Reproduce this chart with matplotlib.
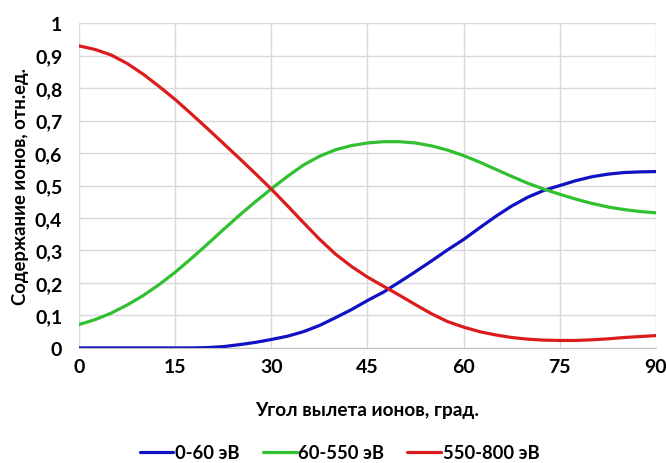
import matplotlib
matplotlib.use("Agg")
import matplotlib.pyplot as plt
from matplotlib.ticker import FuncFormatter

angles = [0, 2.5, 5, 7.5, 10, 12.5, 15, 17.5, 20, 22.5, 25, 27.5, 30, 32.5, 35, 37.5,
          40, 42.5, 45, 47.5, 50, 52.5, 55, 57.5, 60, 62.5, 65, 67.5, 70, 72.5, 75,
          77.5, 80, 82.5, 85, 87.5, 90]
low = [0, 0, 0, 0, 0, 0, 0, 0, 0.001, 0.004, 0.01, 0.017, 0.026, 0.036, 0.05, 0.069,
       0.093, 0.118, 0.146, 0.172, 0.203, 0.235, 0.268, 0.302, 0.334, 0.37, 0.405,
       0.437, 0.464, 0.485, 0.500, 0.515, 0.527, 0.535, 0.540, 0.542, 0.543]
mid = [0.072, 0.087, 0.107, 0.132, 0.161, 0.195, 0.233, 0.275, 0.319, 0.364, 0.408,
       0.45, 0.490, 0.528, 0.563, 0.590, 0.610, 0.623, 0.631, 0.635, 0.635, 0.631,
       0.622, 0.609, 0.592, 0.572, 0.550, 0.528, 0.507, 0.489, 0.473, 0.458, 0.445,
       0.434, 0.426, 0.420, 0.416]
high = [0.930, 0.919, 0.902, 0.876, 0.843, 0.805, 0.765, 0.721, 0.676, 0.630, 0.584,
        0.537, 0.489, 0.438, 0.386, 0.335, 0.289, 0.251, 0.218, 0.190, 0.162, 0.133,
        0.105, 0.081, 0.064, 0.050, 0.040, 0.032, 0.027, 0.024, 0.023, 0.023, 0.025,
        0.028, 0.032, 0.035, 0.038]
labels = ["0-60 эВ", "60-550 эВ", "550-800 эВ"]
colors = ["#1010c4", "#30c030", "#dc1c1c"]
xticks = [0, 15, 30, 45, 60, 75, 90]
yticks = [0, 0.1, 0.2, 0.3, 0.4, 0.5, 0.6, 0.7, 0.8, 0.9, 1.0]

plt.rcParams['font.family'] = ['Lato', 'DejaVu Sans']
plt.rcParams['font.weight'] = 'bold'

fig = plt.figure(figsize=(6.66, 4.64), dpi=100)
ax = fig.add_axes([0.1186, 0.248, 0.8664, 0.700])

for ys, lab, c in zip([low, mid, high], labels, colors):
    ax.plot(angles, ys, color=c, lw=2.3, label=lab, solid_capstyle='round',
            solid_joinstyle='round')

ax.set_xlim(0, 90)
ax.set_ylim(0, 1)
ax.set_xticks(xticks)
ax.set_yticks(yticks)
ax.yaxis.set_major_formatter(FuncFormatter(lambda v, p: ("%g" % round(v, 1)).replace('.', ',')))
ax.grid(True, color='#d9d9d9', lw=1.0)
ax.set_axisbelow(True)
for s in ['top', 'right', 'left']:
    ax.spines[s].set_visible(False)
ax.spines['bottom'].set_color('#bfbfbf')
ax.tick_params(length=0, labelsize=14, colors='black')
ax.tick_params(axis='y', pad=12)
ax.tick_params(axis='x', pad=7)
for t in ax.get_xticklabels() + ax.get_yticklabels():
    t.set_fontweight('bold')

ax.set_xlabel("Угол вылета ионов, град.", fontsize=13.7, fontweight='bold', labelpad=19)
ax.set_ylabel("Содержание ионов, отн.ед.", fontsize=13.3, fontweight='bold', labelpad=4)

fig.legend(loc='center', bbox_to_anchor=(0.51, 0.022), ncol=3, frameon=False,
           handlelength=1.85, handletextpad=0.1, columnspacing=1.25,
           prop={'weight': 'bold', 'size': 13.2})

fig.savefig("out.png", dpi=100)
